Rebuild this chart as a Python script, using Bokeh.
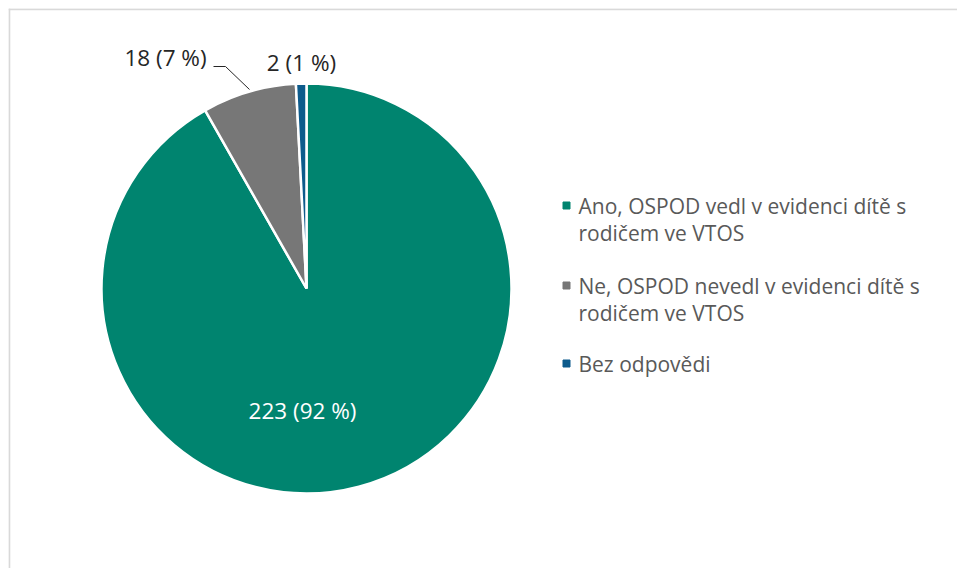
import math, textwrap
from bokeh.plotting import figure
from bokeh.models import Range1d, ColumnDataSource, Span
from bokeh.core.properties import value
from bokeh.embed import file_html
from bokeh.resources import INLINE

categories = ["Ano, OSPOD vedl v evidenci dítě s rodičem ve VTOS",
              "Ne, OSPOD nevedl v evidenci dítě s rodičem ve VTOS",
              "Bez odpovědi"]
counts = [223, 18, 2]
colors = ["#00846f", "#777777", "#0d5b8c"]

total = sum(counts)
labels = [f"{v} ({round(v / total * 100)} %)" for v in counts]

W, H = 949, 560
p = figure(width=W + 8, height=H + 8, output_backend="svg", toolbar_location=None,
           x_range=Range1d(0, W), y_range=Range1d(0, H),
           x_axis_type=None, y_axis_type=None,
           min_border_left=8, min_border_top=8, min_border_right=0, min_border_bottom=0)
p.grid.visible = False
p.outline_line_color = None
p.background_fill_color = "white"
p.border_fill_color = "white"
p.add_layout(Span(location=H - 0.8, dimension="width", line_color="#d9d9d9", line_width=2))
p.add_layout(Span(location=0.8, dimension="height", line_color="#d9d9d9", line_width=2))

cx, cy, R = 298, 280, 205
starts, ends = [], []
a = math.pi / 2
for v in counts:
    starts.append(a)
    a -= v / total * 2 * math.pi
    ends.append(a)
src = ColumnDataSource(dict(start=starts, end=ends, color=colors))
p.wedge(x=cx, y=cy, radius=R, start_angle="start", end_angle="end",
        direction="clock", fill_color="color", line_color="white",
        line_width=2.5, source=src)

font = value("Open Sans")
# data labels
lab_x = [294, 157, 293]
lab_y = [158, 511, 506]
lab_col = ["white", "#262626", "#262626"]
p.text(x=lab_x, y=lab_y, text=labels, text_font=font, text_font_size="22.5px",
       text_align="center", text_baseline="middle", text_color=lab_col)
# leader line for small slice
p.line(x=[205, 217, 241], y=[502, 502, 479], line_color="#262626", line_width=1)

# legend
leg_y = [363, 283, 205]
p.scatter(x=[558] * 3, y=leg_y, marker="square", size=7,
          fill_color=colors, line_color=colors)
tx, ty, tt = [], [], []
for cat, y0 in zip(categories, leg_y):
    for i, line in enumerate(textwrap.wrap(cat, 34)):
        tx.append(570)
        ty.append(y0 - i * 27)
        tt.append(line)
p.text(x=tx, y=ty, text=tt, text_font=font, text_font_size="21px",
       text_align="left", text_baseline="middle", text_color="#595959")

open("out.html", "w").write(file_html(p, INLINE))
